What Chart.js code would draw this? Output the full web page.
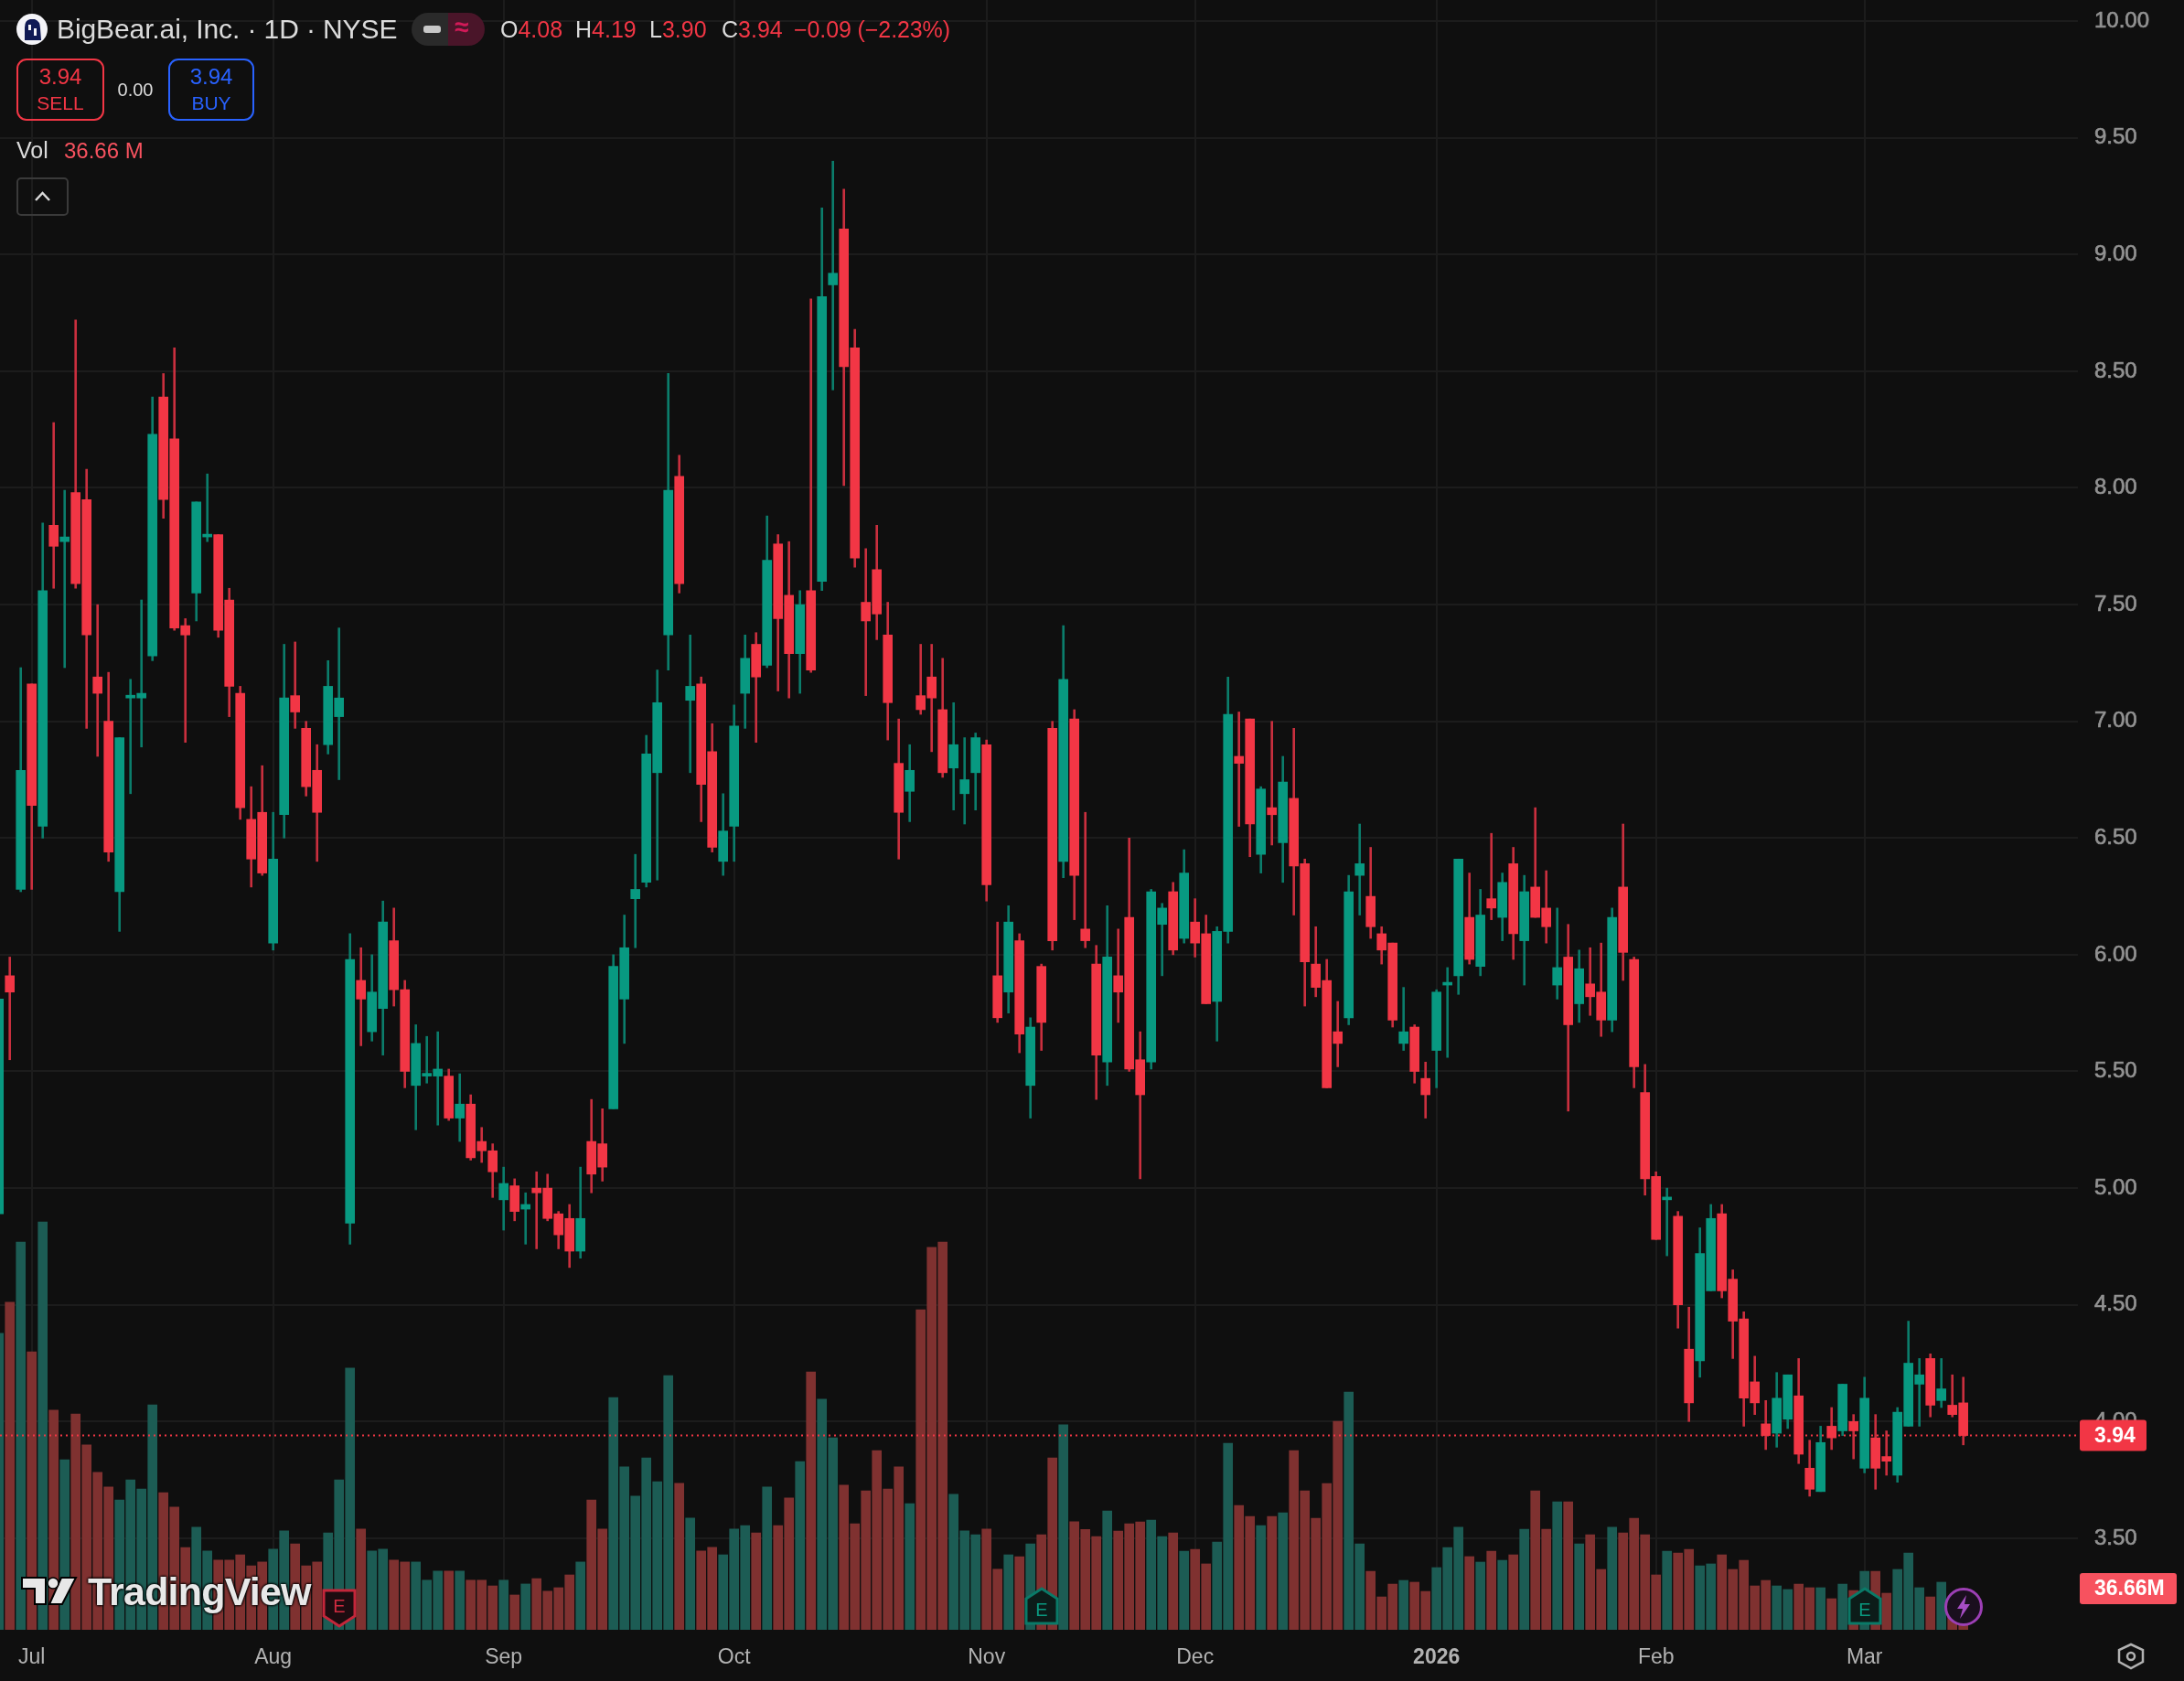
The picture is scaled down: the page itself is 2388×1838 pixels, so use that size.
<!DOCTYPE html>
<html><head><meta charset="utf-8">
<script src="https://cdn.jsdelivr.net/npm/chart.js@4"></script>
<style>
html,body{margin:0;padding:0;background:#0f0f0f;width:2388px;height:1838px;overflow:hidden}
#wrap{position:relative;width:2388px;height:1838px}
canvas{position:absolute;left:0;top:0}
.t{position:absolute;white-space:nowrap;font-family:"Liberation Sans",sans-serif;line-height:1}
.red{color:#f23645}
.box{position:absolute;box-sizing:border-box;border-radius:11px;text-align:center}
svg{position:absolute;overflow:visible}
</style></head><body>
<div id="wrap">
<canvas id="c" width="2388" height="1838"></canvas>

<svg style="left:0;top:0" width="70" height="64"><circle cx="35" cy="32" r="17" fill="#f4f4f8"/><path d="M27 44 L27 30 Q27 22 33 21 L38 21 Q44 23 44 31 L45 44 Z" fill="#101a55"/><path d="M31 27 h3 v6 h-3z M37 31 h3 v8 h-3z" fill="#f4f4f8"/></svg>
<div class="t" style="left:62px;top:17px;font-size:30px;color:#dbdbdb;letter-spacing:-.1px">BigBear.ai, Inc. · 1D · NYSE</div>
<div style="position:absolute;left:450px;top:14px;width:40px;height:36px;background:#2a2a2a;border-radius:18px 0 0 18px"></div>
<div style="position:absolute;left:490px;top:14px;width:40px;height:36px;background:#4a1529;border-radius:0 18px 18px 0"></div>
<div style="position:absolute;left:463px;top:28px;width:19px;height:8px;background:#c8c8c8;border-radius:3px"></div>
<div class="t" style="left:497px;top:16px;font-size:28px;font-weight:bold;color:#d11a58">≈</div>
<div class="t" style="left:547px;top:20px;font-size:25px;color:#dbdbdb">O<span class="red">4.08</span></div>
<div class="t" style="left:629px;top:20px;font-size:25px;color:#dbdbdb">H<span class="red">4.19</span></div>
<div class="t" style="left:710px;top:20px;font-size:25px;color:#dbdbdb">L<span class="red">3.90</span></div>
<div class="t" style="left:789px;top:20px;font-size:25px;color:#dbdbdb">C<span class="red">3.94</span></div>
<div class="t red" style="left:868px;top:20px;font-size:25px;letter-spacing:-.1px">−0.09 (−2.23%)</div>

<div class="box" style="left:18px;top:64px;width:96px;height:68px;border:2.5px solid #f23645"></div>
<div class="t red" style="left:18px;width:96px;text-align:center;top:72px;font-size:24px">3.94</div>
<div class="t red" style="left:18px;width:96px;text-align:center;top:102px;font-size:21px">SELL</div>
<div class="t" style="left:118px;width:60px;text-align:center;top:88px;font-size:20px;color:#dbdbdb">0.00</div>
<div class="box" style="left:184px;top:64px;width:94px;height:68px;border:2.5px solid #2962ff"></div>
<div class="t" style="left:184px;width:94px;text-align:center;top:72px;font-size:24px;color:#2962ff">3.94</div>
<div class="t" style="left:184px;width:94px;text-align:center;top:102px;font-size:21px;color:#2962ff">BUY</div>

<div class="t" style="left:18px;top:152px;font-size:25px;color:#dbdbdb">Vol</div>
<div class="t" style="left:70px;top:153px;font-size:24px;color:#f7525f">36.66 M</div>
<div class="box" style="left:18px;top:194px;width:57px;height:42px;border:2px solid #3a3a3a;border-radius:5px"></div>
<svg style="left:18px;top:194px" width="57" height="42"><path d="M21 25 L28.5 17 L36 25" fill="none" stroke="#dbdbdb" stroke-width="2.5"/></svg>

<svg style="left:22px;top:1722px" width="64" height="36"><path d="M2 3 H28 V32 H16 V15 H2 Z M45 3 H61 L46 32 H32 Z" fill="#e8e8e8" stroke="#000" stroke-width="2"/><circle cx="36" cy="9" r="6" fill="#e8e8e8" stroke="#000" stroke-width="1.5"/></svg>
<div class="t" style="left:96px;top:1719px;font-size:43px;font-weight:bold;color:#e8e8e8;letter-spacing:-.8px;text-shadow:0 0 3px #000,0 0 3px #000,0 0 3px #000">TradingView</div>

<svg style="left:352px;top:1737px" width="38" height="42"><path d="M2 2 H36 V30 L19 41 L2 30 Z" fill="#1c0c10" stroke="#c4263a" stroke-width="3"/></svg>
<div class="t" style="left:352px;width:38px;text-align:center;top:1746px;font-size:20px;color:#d02c40">E</div>
<svg style="left:1120px;top:1735px" width="38" height="42"><path d="M2 40 H36 V13 L19 2 L2 13 Z" fill="#0c1c19" stroke="#0a7a68" stroke-width="3"/></svg>
<div class="t" style="left:1120px;width:38px;text-align:center;top:1750px;font-size:20px;color:#0a9a80">E</div>
<svg style="left:2020px;top:1735px" width="38" height="42"><path d="M2 40 H36 V13 L19 2 L2 13 Z" fill="#0c1c19" stroke="#0a7a68" stroke-width="3"/></svg>
<div class="t" style="left:2020px;width:38px;text-align:center;top:1750px;font-size:20px;color:#0a9a80">E</div>
<svg style="left:2126px;top:1736px" width="42" height="42"><circle cx="21" cy="21" r="19.5" fill="#1a0f1e" stroke="#9c3fb5" stroke-width="3"/><path d="M24 8 L14 23 H20 L17 34 L28 18 H22 Z" fill="#a64dc4"/></svg>
<svg style="left:2315px;top:1796px" width="30" height="30"><path d="M15 2 L28 8 V21 L15 28 L2 21 V8 Z" fill="none" stroke="#b2b2b2" stroke-width="2.5"/><circle cx="15" cy="15" r="4" fill="none" stroke="#b2b2b2" stroke-width="2.5"/></svg>
</div>
<script>
const opens=[4.89,5.91,6.28,7.16,6.55,7.84,7.77,7.98,7.95,7.19,7.00,6.27,7.10,7.10,7.28,8.39,8.21,7.41,7.55,7.79,
7.80,7.52,7.12,6.58,6.61,6.05,6.60,7.11,6.97,6.79,6.90,7.02,4.85,5.89,5.67,5.77,6.06,5.85,5.44,5.48,
5.48,5.48,5.30,5.36,5.20,5.16,4.95,5.01,4.91,5.00,5.00,4.89,4.87,4.73,5.20,5.19,5.34,5.81,6.24,6.31,
6.78,7.37,8.05,7.09,7.16,6.87,6.40,6.55,7.12,7.33,7.24,7.76,7.54,7.29,7.56,7.60,8.87,9.11,8.60,7.51,
7.65,7.37,6.82,6.70,7.11,7.19,7.05,6.80,6.69,6.78,6.90,5.91,5.84,6.06,5.44,5.95,6.97,6.40,7.01,6.11,
5.96,5.54,5.91,6.16,5.55,5.54,6.13,6.27,6.07,6.14,6.09,5.80,6.10,6.85,7.01,6.43,6.63,6.48,6.67,6.39,
5.96,5.89,5.67,5.73,6.34,6.25,6.09,6.05,5.62,5.69,5.47,5.59,5.87,5.91,6.16,5.95,6.24,6.16,6.39,6.06,
6.29,6.20,5.87,5.99,5.79,5.875,5.84,5.72,6.29,5.98,5.41,5.05,4.95,4.88,4.31,4.26,4.56,4.89,4.61,4.44,
4.17,3.99,3.95,4.01,4.11,3.80,3.70,3.98,3.96,4.00,3.80,3.93,3.85,3.77,3.98,4.16,4.27,4.09,4.07,4.08];
const highs=[5.83,5.99,7.23,7.16,7.85,8.28,7.99,8.72,8.08,7.50,7.21,6.93,7.18,7.52,8.39,8.49,8.60,7.44,7.94,8.06,
7.80,7.57,7.15,6.72,6.81,6.61,7.33,7.34,7.00,6.90,7.26,7.40,6.09,6.03,6.00,6.23,6.20,5.89,5.70,5.65,
5.67,5.51,5.49,5.40,5.26,5.19,5.09,5.04,4.98,5.07,5.06,4.90,4.93,5.09,5.38,5.34,6.00,6.17,6.43,6.94,
7.22,8.49,8.14,7.37,7.19,6.99,6.69,7.07,7.37,7.38,7.88,7.80,7.77,7.56,8.81,9.20,9.40,9.28,8.68,7.74,
7.84,7.51,7.01,6.90,7.33,7.33,7.27,7.08,6.93,6.95,6.92,6.14,6.21,6.09,5.73,5.96,7.00,7.41,7.05,6.61,
6.04,6.21,6.11,6.50,5.67,6.28,6.22,6.31,6.45,6.24,6.17,6.12,7.19,7.04,7.01,6.72,7.00,6.85,6.97,6.41,
6.12,5.98,5.80,6.34,6.56,6.46,6.12,6.05,5.86,5.70,5.54,5.85,5.945,6.41,6.35,6.28,6.52,6.35,6.46,6.34,
6.63,6.36,6.20,6.13,6.02,6.03,6.05,6.20,6.56,5.99,5.53,5.07,5.00,4.90,4.49,4.83,4.93,4.93,4.65,4.47,
4.28,4.09,4.21,4.20,4.27,3.92,3.98,4.06,4.16,4.03,4.19,4.03,3.96,4.06,4.43,4.27,4.29,4.27,4.20,4.19];
const lows=[4.89,5.55,6.27,6.28,6.50,7.57,7.23,7.57,6.97,6.85,6.40,6.10,6.69,6.89,7.26,7.87,7.39,6.91,7.43,7.77,
7.36,7.02,6.58,6.29,6.34,6.02,6.50,6.97,6.68,6.40,6.86,6.75,4.76,5.61,5.63,5.57,5.78,5.43,5.25,5.45,
5.27,5.29,5.20,5.12,5.11,4.96,4.82,4.86,4.76,4.74,4.86,4.74,4.66,4.70,4.98,5.03,5.34,5.62,6.03,6.29,
6.32,7.22,7.55,6.78,6.57,6.44,6.34,6.40,6.97,6.91,7.23,7.13,7.10,7.12,7.21,7.56,8.42,8.01,7.66,7.11,
7.35,6.92,6.41,6.57,7.03,6.87,6.76,6.62,6.56,6.62,6.23,5.71,5.75,5.58,5.30,5.59,6.02,6.33,6.15,6.03,
5.38,5.44,5.71,5.50,5.04,5.51,5.91,6.00,6.05,5.99,5.79,5.63,6.05,6.55,6.42,6.35,6.47,6.31,6.17,5.78,
5.82,5.43,5.52,5.70,6.17,6.07,5.96,5.69,5.59,5.45,5.30,5.43,5.56,5.83,5.96,5.91,6.15,6.06,5.98,5.87,
6.16,6.05,5.81,5.33,5.71,5.74,5.65,5.67,5.89,5.43,4.97,4.78,4.71,4.40,4.00,4.19,4.56,4.53,4.27,3.98,
4.03,3.88,3.89,3.97,3.82,3.68,3.70,3.88,3.94,3.84,3.78,3.71,3.77,3.74,3.98,3.98,4.02,4.06,4.02,3.90];
const closes=[5.81,5.84,6.79,6.64,7.56,7.75,7.79,7.59,7.37,7.12,6.44,6.93,7.11,7.12,8.23,7.95,7.40,7.37,7.94,7.80,
7.39,7.15,6.63,6.41,6.35,6.41,7.10,7.04,6.72,6.61,7.15,7.10,5.98,5.81,5.84,6.14,5.85,5.50,5.62,5.49,
5.51,5.30,5.36,5.13,5.16,5.07,5.02,4.90,4.93,4.98,4.87,4.80,4.73,4.87,5.06,5.09,5.95,6.03,6.28,6.86,
7.08,7.99,7.59,7.15,6.73,6.46,6.53,6.98,7.27,7.19,7.69,7.44,7.29,7.50,7.22,8.82,8.92,8.52,7.70,7.43,
7.46,7.08,6.61,6.79,7.05,7.10,6.78,6.90,6.75,6.93,6.30,5.73,6.14,5.66,5.69,5.71,6.06,7.18,6.34,6.06,
5.57,5.99,5.84,5.51,5.40,6.27,6.20,6.02,6.35,6.05,5.79,6.10,7.03,6.82,6.56,6.71,6.60,6.74,6.38,5.97,
5.86,5.43,5.62,6.27,6.39,6.12,6.02,5.72,5.67,5.50,5.40,5.84,5.88,6.41,5.98,6.17,6.20,6.31,6.09,6.27,
6.16,6.12,5.945,5.70,5.94,5.82,5.72,6.16,6.01,5.52,5.04,4.78,4.96,4.50,4.08,4.72,4.87,4.56,4.43,4.10,
4.08,3.94,4.10,4.20,3.86,3.71,3.91,3.93,4.16,3.96,4.10,3.80,3.83,4.04,4.25,4.20,4.07,4.14,4.03,3.94];
const volumes=[264.2,291.9,345.5,247.7,363.4,195.7,151.5,192.3,164.7,140.3,127.2,115.7,133.6,125.5,200.4,122.2,109.3,73.2,91.4,70.2,
62.1,62.1,66.8,57.0,60.4,71.8,88.1,76.6,57.0,60.4,86.4,133.6,233.2,89.7,70.2,71.8,62.1,60.4,60.4,44.2,
52.3,52.3,52.3,44.2,44.2,39.1,44.2,31.0,40.8,45.6,34.4,37.5,48.9,60.4,115.7,89.7,206.9,145.1,119.1,153.2,
132.0,226.4,130.6,99.5,70.2,73.5,66.8,89.7,92.8,86.4,127.2,92.8,117.4,149.8,229.8,205.5,171.1,128.9,94.5,123.8,
159.6,125.5,145.1,112.4,285.2,340.8,345.5,120.8,88.1,84.7,89.7,54.0,66.8,65.1,76.6,84.7,153.2,182.6,96.2,89.4,
83.1,105.9,88.0,94.5,96.1,97.8,83.1,86.4,70.1,71.7,58.7,78.2,166.2,110.8,101.0,92.9,101.0,104.3,159.7,123.8,
99.4,130.4,185.8,211.8,76.6,52.1,29.3,40.7,44.0,42.4,34.2,55.4,73.3,91.3,65.2,60.3,70.1,61.9,66.8,89.6,
123.8,89.6,114.1,114.1,76.6,84.7,53.8,91.3,86.4,99.4,84.7,48.9,70.1,68.4,71.7,57.0,58.7,66.8,53.8,61.9,
39.1,44.0,39.1,35.9,40.7,37.5,37.5,27.7,40.7,35.0,52.1,52.1,32.6,53.8,68.4,37.5,29.3,42.4,19.0,36.66];
const monthBars=[3,25,46,67,90,109,131,151,170];
const monthLabels=["Jul","Aug","Sep","Oct","Nov","Dec","2026","Feb","Mar"];
const priceTicks=[3.5,4,4.5,5,5.5,6,6.5,7,7.5,8,8.5,9,9.5,10];
const lastVolumeLabel="36.66M";

const PX_PER_BAR=12, PLOT_W=2272, PLOT_H=1782;
const xMin=1.3/PX_PER_BAR, xMax=(PLOT_W+1.3)/PX_PER_BAR;
const PX_PER_UNIT=255.2, priceMax=10+23.1/PX_PER_UNIT, priceMin=priceMax-PLOT_H/PX_PER_UNIT;
const volMax=PLOT_H/1.2273;
const up=closes.map((c,i)=>c>=opens[i]);
const idx=opens.map((_,i)=>i);
const last=closes[closes.length-1];
const GREEN='#089981',RED='#f23645';
const noPad=s=>{s.paddingTop=0;s.paddingBottom=0;s.paddingLeft=0;s.paddingRight=0;};

const overlay={id:'overlay',afterDraw(ch){
  const c=ch.ctx,y=ch.scales.y,v=ch.scales.v;
  const label=(cy,txt,fill,w)=>{
    c.save();c.fillStyle=fill;
    c.beginPath();c.roundRect(2274,cy-17,w,34,3);c.fill();
    c.fillStyle='#fff';c.font='bold 23px "Liberation Sans"';c.textBaseline='middle';c.textAlign='left';
    c.fillText(txt,2290,cy+1);c.restore();
  };
  label(y.getPixelForValue(last),last.toFixed(2),RED,73);
  label(v.getPixelForValue(volumes[volumes.length-1]),lastVolumeLabel,'#f7525f',106);
}};

new Chart(document.getElementById('c'),{
  type:'bar',
  data:{datasets:[
    {label:'Body',yAxisID:'y',order:1,grouped:false,barThickness:10,minBarLength:3,borderWidth:0,
     backgroundColor:up.map(u=>u?GREEN:RED),
     data:idx.map(i=>({x:i,y:[opens[i],closes[i]]}))},
    {label:'Wick',yAxisID:'y',order:2,grouped:false,barThickness:2,borderWidth:0,
     backgroundColor:up.map(u=>u?'#0b7d6b':'#c92f3e'),
     data:idx.map(i=>({x:i,y:[lows[i],highs[i]]}))},
    {type:'line',label:'Last',yAxisID:'y',order:3,borderColor:RED,borderWidth:2,borderDash:[2,4],pointRadius:0,
     data:[{x:xMin,y:last},{x:xMax,y:last}]},
    {label:'Vol',yAxisID:'v',order:4,grouped:false,barThickness:10,borderWidth:0,
     backgroundColor:up.map(u=>u?'#1c5c54':'#7f3130'),
     data:idx.map(i=>({x:i,y:volumes[i]}))}
  ]},
  options:{
    responsive:false,animation:false,devicePixelRatio:1,
    layout:{padding:0},
    plugins:{legend:{display:false},tooltip:{enabled:false}},
    scales:{
      x:{type:'linear',min:xMin,max:xMax,offset:false,
         grid:{offset:false,color:'#1c1c1c',lineWidth:2,drawTicks:false},border:{display:false},
         afterBuildTicks(s){s.ticks=monthBars.map(v=>({value:v}));},
         afterFit(s){s.height=1838-PLOT_H;noPad(s);},
         ticks:{autoSkip:false,maxRotation:0,padding:17,color:'#b2b2b2',
           font:c=>({family:'"Liberation Sans"',size:23,weight:monthLabels[c.index]==='2026'?'bold':'normal'}),
           callback:(v,i)=>monthLabels[i]}},
      y:{type:'linear',position:'right',min:priceMin,max:priceMax,
         grid:{color:'#1c1c1c',lineWidth:2,drawTicks:false},border:{display:false},
         afterBuildTicks(s){s.ticks=priceTicks.map(v=>({value:v}));},
         afterFit(s){s.width=2388-PLOT_W;noPad(s);},
         ticks:{autoSkip:false,padding:18,color:'#929292',textStrokeColor:'#929292',textStrokeWidth:0.7,
           font:{family:'"Liberation Sans"',size:24},
           callback:v=>v.toFixed(2)}},
      v:{type:'linear',display:false,min:0,max:volMax,grid:{display:false}}
    }
  },
  plugins:[overlay]
});
</script>
</body></html>
